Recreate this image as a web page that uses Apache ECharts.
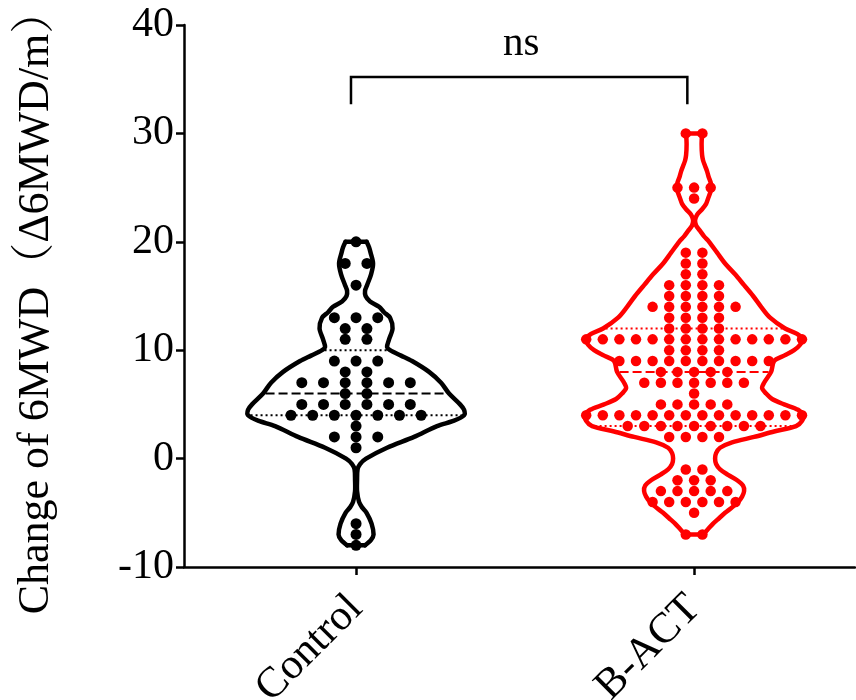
<!DOCTYPE html>
<html><head><meta charset="utf-8">
<script src="https://cdn.jsdelivr.net/npm/echarts@6/dist/echarts.min.js"></script>
<style>html,body{margin:0;padding:0;background:#fff}#c{width:856px;height:700px}</style>
</head><body><div id="c"></div>
<script>
// ---------- data ----------
const categories = ['Control', 'B-ACT'];
const yTicks = [-10, 0, 10, 20, 30, 40];
const controlValues = [20, 18, 18, 16, 13, 13, 13, 12, 12, 11, 11, 9, 9, 9, 8, 8,
  7, 7, 7, 7, 7, 7, 6, 6, 5, 5, 5, 5, 5, 5, 4, 4, 4, 4, 4, 4, 4, 3, 2, 2, 2, 1, -6, -7, -8];
const bactValues = [30, 30, 25, 25, 25, 24, 19, 19, 18, 18, 17, 17, 16, 16, 16, 16,
  15, 15, 15, 15, 14, 14, 14, 14, 14, 14, 13, 13, 13, 13, 12, 12, 12, 12,
  11, 11, 11, 11, 11, 11, 11, 11, 11, 11, 11, 11, 11, 11, 10, 10, 10, 10,
  9, 9, 9, 9, 9, 9, 9, 9, 9, 9, 8, 8, 8, 8, 8, 7, 7, 7, 7, 7, 7, 7, 6,
  5, 5, 5, 5, 5, 4, 4, 4, 4, 4, 4, 4, 4, 4, 4, 4, 4, 4, 4,
  3, 3, 3, 3, 3, 3, 3, 3, 3, 2, 2, 2, 2, -1, -1, -2, -2, -2,
  -3, -3, -3, -3, -3, -4, -4, -4, -4, -4, -4, -5, -7, -7];
// quartiles [Q1, median, Q3]
const controlQuartiles = [4, 6, 10];
const bactQuartiles = [3, 8, 12];
// violin density profile (value, relative half-width)
const controlViolinY = [-8, -7.5, -7, -6, -5, -4.5, -4, -3, -2, -1, -0.5, 0, 1, 2, 3, 3.5, 4, 4.5, 5, 6, 7, 8, 9, 9.5, 10, 10.3, 11, 12, 13, 13.5, 14, 14.5, 15, 15.5, 16, 17, 18, 19, 19.5, 20];
const controlViolinW = [9, 15, 17.5, 15.5, 10.5, 6, 3, 1, 1, 1.5, 4, 10, 31, 58, 81, 98, 108, 108, 104, 93, 85, 73, 56, 45, 34, 31, 33, 36.5, 34, 28, 23, 14, 9.5, 9, 11, 15, 17, 14.5, 13, 10.5];
const bactViolinY = [-7, -6.5, -6, -5.5, -5, -4.5, -4, -3.5, -3, -2.5, -2, -1.5, -1, -0.5, 0, 0.5, 1, 1.5, 2, 2.5, 3, 3.5, 4, 4.5, 5, 5.5, 6, 6.5, 7, 8, 9, 9.5, 10, 10.5, 11, 11.5, 12, 13, 14, 15, 16, 17, 18, 19, 20, 20.5, 21, 21.5, 22, 22.5, 23, 23.5, 24, 24.5, 25, 25.5, 26, 26.5, 27, 27.5, 28, 29, 30];
const bactViolinW = [9, 14, 19, 25, 31, 38, 44, 48, 50, 49, 43, 34, 26, 22, 21, 22, 26, 38, 60, 80, 102, 108, 109, 104, 90, 78, 72, 68, 70, 77, 80, 90, 100, 106, 108, 103, 91, 76, 67, 59, 50, 41, 31, 23, 15, 10, 6, 2, 1, 3, 8, 12, 14, 16, 17.5, 16.5, 14.5, 13, 11, 9, 8, 7.5, 8];
const comparisonLabel = 'ns';
const comparisonPair = [1, 2];

// ---------- rendering ----------
const FONT = "'Liberation Serif','Times New Roman','Noto Serif CJK SC','Noto Sans CJK SC',serif";
const groups = [
  { x: 1, values: controlValues, vy: controlViolinY, vw: controlViolinW, q: controlQuartiles, color: '#000000', spacing: 21.7, dot: 11 },
  { x: 2, values: bactValues, vy: bactViolinY, vw: bactViolinW, q: bactQuartiles, color: '#ff0000', spacing: 16.6, dot: 10.5 }
];
const WSCALE = 1.0;

function widthAt(g, v) {
  for (let i = 0; i < g.vy.length - 1; i++) {
    if (v >= g.vy[i] && v <= g.vy[i + 1]) {
      const t = (v - g.vy[i]) / (g.vy[i + 1] - g.vy[i]);
      return g.vw[i] + t * (g.vw[i + 1] - g.vw[i]);
    }
  }
  return 0;
}

function violinRender(params, api) {
  const g = groups[api.value(0)];
  const right = [], left = [];
  for (let i = 0; i < g.vy.length; i++) {
    const p = api.coord([g.x, g.vy[i]]);
    const w = g.vw[i] * WSCALE;
    right.push([p[0] + w, p[1]]);
    left.push([p[0] - w, p[1]]);
  }
  const st = { stroke: g.color, lineWidth: 4.5, fill: null, lineJoin: 'round', lineCap: 'round' };
  const n = right.length - 1;
  const children = [
    { type: 'polyline', shape: { points: right, smooth: 0.3 }, style: st },
    { type: 'polyline', shape: { points: left, smooth: 0.3 }, style: st },
    { type: 'line', shape: { x1: left[0][0], y1: left[0][1], x2: right[0][0], y2: right[0][1] }, style: st },
    { type: 'line', shape: { x1: left[n][0], y1: left[n][1], x2: right[n][0], y2: right[n][1] }, style: st }
  ];
  g.q.forEach((qv, k) => {
    const p = api.coord([g.x, qv]);
    const w = widthAt(g, qv) * WSCALE - 2.5;
    children.push({
      type: 'line',
      shape: { x1: p[0] - w, y1: p[1], x2: p[0] + w, y2: p[1] },
      style: { stroke: g.color, lineWidth: 2, lineDash: k === 1 ? [9, 4] : [2, 3], fill: null }
    });
  });
  return { type: 'group', children };
}

function swarm(g) {
  const counts = {};
  g.values.forEach(v => counts[v] = (counts[v] || 0) + 1);
  const seen = {};
  return g.values.map(v => {
    const n = counts[v];
    const i = seen[v] = (seen[v] || 0) + 1;
    return { value: [g.x, v], symbolOffset: [((i - 1) - (n - 1) / 2) * g.spacing, 0] };
  });
}

function bracketRender(params, api) {
  const topY = 35.2, legY = 32.7, inset = 0.015;
  const a = api.coord([comparisonPair[0] - inset, topY]);
  const b = api.coord([comparisonPair[1] - inset - 0.005, topY]);
  const a2 = api.coord([comparisonPair[0] - inset, legY]);
  const b2 = api.coord([comparisonPair[1] - inset - 0.005, legY]);
  const st = { stroke: '#000', lineWidth: 2.5, fill: null };
  return {
    type: 'group', children: [
      { type: 'polyline', shape: { points: [a2, a, b, b2] }, style: st },
      { type: 'text', x: (a[0] + b[0]) / 2 + 2, y: a[1] - 12, style: { text: comparisonLabel, font: "41px " + FONT, fill: '#000', align: 'center', verticalAlign: 'bottom' } }
    ]
  };
}

const chart = echarts.init(document.getElementById('c'), null, { renderer: 'canvas' });
chart.setOption({
  animation: false,
  backgroundColor: '#fff',
  grid: { left: 184, right: 1, top: 25, bottom: 133, containLabel: false, outerBoundsMode: 'none' },
  xAxis: {
    type: 'value', min: 0.491, max: 2.476, splitLine: { show: false },
    axisLine: { show: true, onZero: false, lineStyle: { color: '#000', width: 2.5 } },
    axisTick: { show: true, customValues: [1, 2], length: 8, lineStyle: { color: '#000', width: 2.5 } },
    axisLabel: { customValues: [1, 2], formatter: v => categories[Math.round(v) - 1], rotate: 45, fontSize: 43, fontFamily: FONT, color: '#000', margin: 35 }
  },
  yAxis: {
    type: 'value', min: yTicks[0], max: yTicks[yTicks.length - 1], interval: yTicks[1] - yTicks[0], splitLine: { show: false },
    axisLine: { show: true, onZero: false, lineStyle: { color: '#000', width: 2.5 } },
    axisTick: { show: true, length: 8, lineStyle: { color: '#000', width: 2.5 } },
    axisLabel: { fontSize: 42, fontFamily: FONT, color: '#000', margin: 10 },
    name: 'Change of 6MWD（Δ6MWD/m）', nameLocation: 'middle', nameRotate: 90, nameGap: 126,
    nameTextStyle: { fontSize: 44, fontFamily: FONT, color: '#000', padding: [0, 12, 0, 0] }
  },
  series: [
    { type: 'custom', renderItem: violinRender, data: [[0]], clip: false, z: 2 },
    { type: 'custom', renderItem: violinRender, data: [[1]], clip: false, z: 2 },
    { type: 'scatter', data: swarm(groups[0]), symbol: 'circle', symbolSize: groups[0].dot, itemStyle: { color: groups[0].color, opacity: 1 }, z: 3 },
    { type: 'scatter', data: swarm(groups[1]), symbol: 'circle', symbolSize: groups[1].dot, itemStyle: { color: groups[1].color, opacity: 1 }, z: 3 },
    { type: 'custom', renderItem: bracketRender, data: [[0]], clip: false, z: 2 }
  ]
});
</script></body></html>
